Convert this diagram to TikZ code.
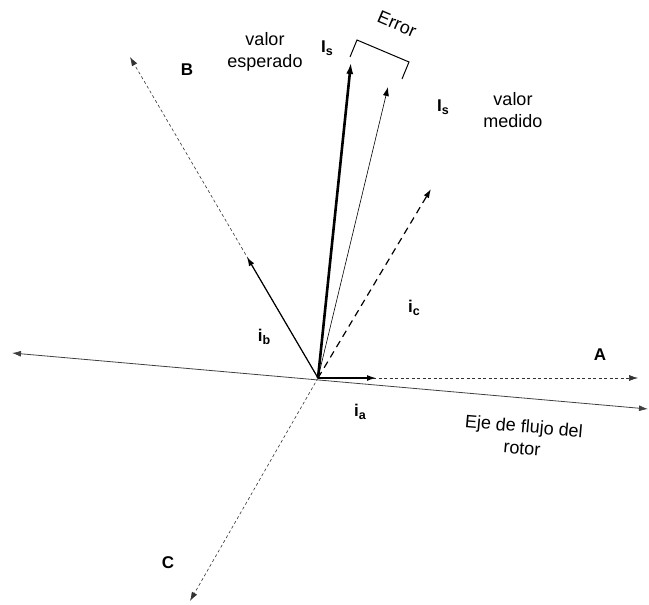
\documentclass[tikz,border=0pt]{standalone}
\usepackage{fontspec}
\setmainfont{Liberation Sans}
\usetikzlibrary{arrows.meta}
\newcommand{\lsub}[1]{\raisebox{-2.5pt}{\fontsize{12.5}{13}\selectfont #1}}
\begin{document}
\begin{tikzpicture}[x=1pt,y=-1pt,
  tip/.style={-{Latex[length=9pt,width=6pt]}},
  axisline/.style={draw=black!80,line width=0.6pt,dash pattern=on 3pt off 2.5pt,tip},
  lbl/.style={font=\fontsize{17}{20}\selectfont\bfseries},
  txt/.style={font=\fontsize{18}{22}\selectfont,align=center}]
\useasboundingbox (0,0) rectangle (649,605);
\coordinate (O) at (318,378);
\coordinate (rl) at (12,353);
\coordinate (rr) at (648,409);
\coordinate (Aend) at (638,378);
\coordinate (Bend) at (130,57);
\coordinate (Cend) at (190,601);
\coordinate (iaend) at (376,378);
\coordinate (ibend) at (247,257);
\coordinate (icend) at (431,189);
\coordinate (Ise) at (351,62);
\coordinate (Ism) at (388,87);
\coordinate (br1) at (350,57);
\coordinate (br2) at (357,40);
\coordinate (br3) at (409,62);
\coordinate (br4) at (402,79);
% rotor axis
\draw[black!75,line width=0.8pt,{Latex[length=9pt,width=6pt]}-{Latex[length=9pt,width=6pt]}] (rl) -- (rr);
% phase axes
\draw[axisline] (O) -- (Aend);
\draw[axisline] (O) -- (Bend);
\draw[axisline] (O) -- (Cend);
% currents
\draw[tip,line width=1.4pt] (O) -- (iaend);
\draw[tip,line width=1.2pt] (O) -- (ibend);
\draw[tip,line width=1.2pt,dash pattern=on 7pt off 5pt] (O) -- (icend);
\draw[-{Latex[length=12pt,width=7pt]},line width=2.6pt] (O) -- (Ise);
\draw[tip,line width=0.6pt] (O) -- (Ism);
% error bracket
\draw[line width=1pt] (br1) -- (br2) -- (br3) -- (br4);
\node[txt,rotate=-23,inner sep=0pt] (err) at (397,24) {Error};
% labels
\node[lbl] (A) at (600,355) {A};
\node[lbl] (B) at (187,70) {B};
\node[lbl] (C) at (168,563) {C};
\node[lbl] (Is1) at (327,48) {I\lsub{s}};
\node[lbl] (Is2) at (443,107) {I\lsub{s}};
\node[lbl] (ia) at (360,412) {i\lsub{a}};
\node[lbl] (ib) at (264,337) {i\lsub{b}};
\node[lbl] (ic) at (414,308) {i\lsub{c}};
\node[txt] (vesp) at (265,52) {valor\\esperado};
\node[txt] (vmed) at (513,110) {valor\\medido};
\node[txt,rotate=-5] (eje) at (523,437) {Eje de flujo del\\rotor};
\end{tikzpicture}
\end{document}
